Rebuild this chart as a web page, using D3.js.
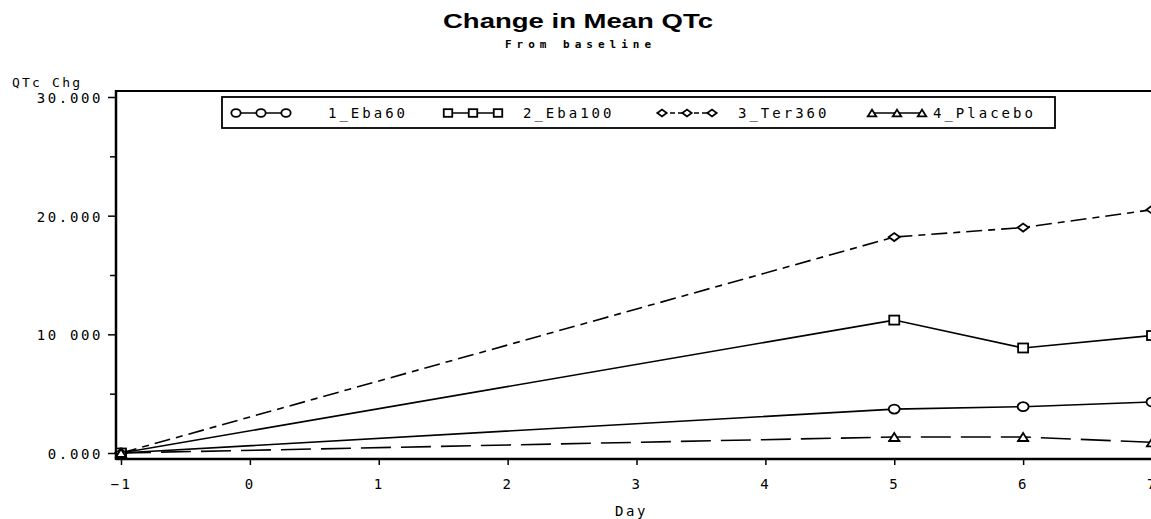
<!DOCTYPE html>
<html><head><meta charset="utf-8">
<script src="https://cdn.jsdelivr.net/npm/d3@7"></script>
<style>
html,body{margin:0;padding:0;background:#fff;}
svg{display:block;}
.mono{font-family:"DejaVu Sans Mono","Liberation Mono",monospace;font-size:14px;letter-spacing:2.6px;fill:#000;}
</style></head>
<body>
<svg id="c" width="1151" height="519"></svg>
<script>
const days = [-1, 5, 6, 7];
const seriesNames = ["1_Eba60", "2_Eba100", "3_Ter360", "4_Placebo"];
const eba60 = [0, 3.7, 3.9, 4.3];
const eba100 = [0, 11.2, 8.85, 9.9];
const ter360 = [0, 18.2, 19.0, 20.5];
const placebo = [0, 1.35, 1.35, 0.9];
const xTicks = [-1, 0, 1, 2, 3, 4, 5, 6, 7];
const yTicks = [0, 10, 20, 30];
const yMinorTicks = [5, 15, 25];
const yTickLabels = ["0.000", "10 000", "20.000", "30.000"];

(function () {
const svg = d3.select("#c");
const x = d3.scaleLinear().domain([-1, 7]).range([121, 1152]);
const y = d3.scaleLinear().domain([0, 30]).range([453, 97]);

// title
svg.append("text").attr("x", 443).attr("y", 28)
  .attr("textLength", 270).attr("lengthAdjust", "spacingAndGlyphs")
  .style("font-family", "Liberation Sans, Arial, sans-serif").style("font-weight", "bold")
  .style("font-size", "21px").text("Change in Mean QTc");
svg.append("text").attr("class", "mono").attr("x", 505).attr("y", 48)
  .style("font-size", "11px").style("letter-spacing", "5px").style("font-weight", "bold").text("From baseline");

// frame lines
const plotLeft = 116, plotTop = 91, plotBottom = 459;
svg.append("line").attr("x1", plotLeft).attr("x2", 1151).attr("y1", plotTop).attr("y2", plotTop).attr("stroke", "#000").attr("stroke-width", 2);

// y axis
const yAxis = d3.axisLeft(y).tickValues(yTicks).tickSize(8).tickFormat((d, i) => yTickLabels[i]);
const gy = svg.append("g").attr("transform", `translate(${plotLeft},0)`).call(yAxis);
gy.select(".domain").remove();
gy.append("line").attr("x1", 0).attr("x2", 0).attr("y1", plotTop - 1).attr("y2", plotBottom + 1).attr("stroke", "#000").attr("stroke-width", 2.5);
gy.selectAll(".tick line").attr("stroke", "#000").attr("stroke-width", 1.5);
gy.selectAll(".tick text").attr("class", "mono").attr("x", -13).attr("dy", "0.4em");
gy.attr("font-family", null).attr("font-size", null);
const gyMinor = svg.append("g").attr("transform", `translate(${plotLeft},0)`)
  .call(d3.axisLeft(y).tickValues(yMinorTicks).tickSize(6).tickFormat(""));
gyMinor.select(".domain").remove();
gyMinor.selectAll(".tick line").attr("stroke", "#000").attr("stroke-width", 1.5);

// x axis
const xAxis = d3.axisBottom(x).tickValues(xTicks).tickSize(6).tickFormat(d3.format("d"));
const gx = svg.append("g").attr("transform", `translate(0,${plotBottom})`).call(xAxis);
gx.select(".domain").remove();
gx.append("line").attr("x1", plotLeft).attr("x2", 1151).attr("y1", 0).attr("y2", 0).attr("stroke", "#000").attr("stroke-width", 2.5);
gx.selectAll(".tick line").attr("stroke", "#000").attr("stroke-width", 1.5);
gx.selectAll(".tick text").attr("class", "mono").attr("y", 30).attr("dy", 0).attr("text-anchor", "middle");
gx.attr("font-family", null).attr("font-size", null);

// axis labels
svg.append("text").attr("class", "mono").attr("x", 12).attr("y", 87)
  .style("font-size", "13px").style("letter-spacing", "2.2px").text("QTc Chg");
svg.append("text").attr("class", "mono").attr("x", 615).attr("y", 516).text("Day");

// series
const series = [
  {name: seriesNames[0], vals: eba60, dash: null, sym: "circle"},
  {name: seriesNames[1], vals: eba100, dash: null, sym: "square"},
  {name: seriesNames[2], vals: ter360, dash: "16,6,7,6", sym: "diamond"},
  {name: seriesNames[3], vals: placebo, dash: "30,10", sym: "triangle"}
];
const line = d3.line().x((d, i) => x(days[i])).y(d => y(d));

function drawSym(g, sym, cx, cy, k) {
  let el;
  if (sym === "circle") el = g.append("ellipse").attr("cx", cx).attr("cy", cy).attr("rx", 5.5 * k).attr("ry", 4.5 * k);
  else if (sym === "square") el = g.append("rect").attr("x", cx - 5 * k).attr("y", cy - 4.5 * k).attr("width", 10 * k).attr("height", 9 * k);
  else if (sym === "diamond") el = g.append("path").attr("d", `M${cx-5.5*k},${cy}L${cx},${cy-4*k}L${cx+5.5*k},${cy}L${cx},${cy+4*k}Z`);
  else el = g.append("path").attr("d", `M${cx-5*k},${cy+4*k}L${cx},${cy-4*k}L${cx+5*k},${cy+4*k}Z M${cx-6*k},${cy+4*k}L${cx+6*k},${cy+4*k}`);
  el.attr("fill", "#fff").attr("stroke", "#000").attr("stroke-width", 1.8);
}

series.forEach(s => {
  const p = svg.append("path").datum(s.vals).attr("d", line).attr("fill", "none")
    .attr("stroke", "#000").attr("stroke-width", 1.6);
  if (s.dash) p.attr("stroke-dasharray", s.dash);
});
series.forEach(s => {
  const g = svg.append("g");
  s.vals.forEach((v, i) => drawSym(g, s.sym, x(days[i]), y(v), 1));
});

// legend
const lg = svg.append("g");
lg.append("rect").attr("x", 222).attr("y", 97).attr("width", 833).attr("height", 31)
  .attr("fill", "#fff").attr("stroke", "#000").attr("stroke-width", 1.8);
const legendSymX = [236, 448, 662, 872];
const legendTextX = [328, 523, 738, 933];
const legendDash = [null, null, "5,3", null];
series.forEach((s, i) => {
  const sx = legendSymX[i], cy = 113;
  const ln = lg.append("line").attr("x1", sx).attr("x2", sx + 50).attr("y1", cy).attr("y2", cy)
    .attr("stroke", "#000").attr("stroke-width", 1.6);
  if (legendDash[i]) ln.attr("stroke-dasharray", legendDash[i]);
  [0, 25, 50].forEach(o => drawSym(lg, s.sym, sx + o, cy, 0.85));
  lg.append("text").attr("class", "mono").attr("x", legendTextX[i]).attr("y", cy + 5)
    .style("letter-spacing", "3px").text(s.name);
});
})();
</script>
</body></html>
